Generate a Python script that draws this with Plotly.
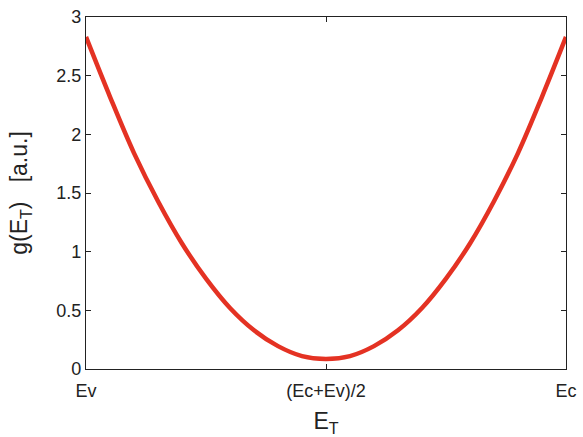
import plotly.graph_objects as go

# Trap energy across the gap, normalised: 0 = Ev, 0.5 = midgap, 1 = Ec
energy = [0.00, 0.05, 0.10, 0.15, 0.20, 0.25, 0.30, 0.35, 0.40, 0.45, 0.50,
          0.55, 0.60, 0.65, 0.70, 0.75, 0.80, 0.85, 0.90, 0.95, 1.00]
# Generation rate g(E_T) in arbitrary units
g_values = [2.83, 2.32, 1.84, 1.43, 1.07, 0.77, 0.52, 0.33, 0.195, 0.11, 0.085,
            0.11, 0.195, 0.33, 0.52, 0.77, 1.07, 1.43, 1.84, 2.32, 2.83]

x_tickvals = [0.0, 0.5, 1.0]
x_ticktext = ["Ev", "(Ec+Ev)/2", "Ec"]

FONT = "Liberation Sans, Arial, Helvetica, sans-serif"

fig = go.Figure()
fig.add_trace(go.Scatter(
    x=energy, y=g_values, mode="lines",
    line=dict(color="rgb(228,50,35)", width=4.5, shape="spline", smoothing=1.0),
    showlegend=False, hoverinfo="skip",
))

axis_common = dict(
    showline=True, linecolor="#222222", linewidth=1.2, mirror="ticks",
    ticks="inside", ticklen=5, tickwidth=1.2, tickcolor="#222222",
    showgrid=False, zeroline=False, automargin=False,
    tickfont=dict(family=FONT, size=18, color="#222222"),
)

fig.update_layout(
    width=583, height=437,
    margin=dict(l=86, r=17, t=17, b=68),
    paper_bgcolor="white", plot_bgcolor="white",
    font=dict(family=FONT, color="#222222"),
    xaxis=dict(
        range=[0, 1], tickmode="array", tickvals=x_tickvals, ticktext=x_ticktext,
        ticklabelstandoff=5,
        title=dict(text="E<sub>T</sub>", font=dict(family=FONT, size=23), standoff=13),
        **axis_common,
    ),
    yaxis=dict(
        range=[0, 3], tickmode="linear", tick0=0, dtick=0.5,
        title=dict(text="g(E<sub>T</sub>) &nbsp; [a.u.]", font=dict(family=FONT, size=23), standoff=22),
        **axis_common,
    ),
)

fig.write_html("out.html")
